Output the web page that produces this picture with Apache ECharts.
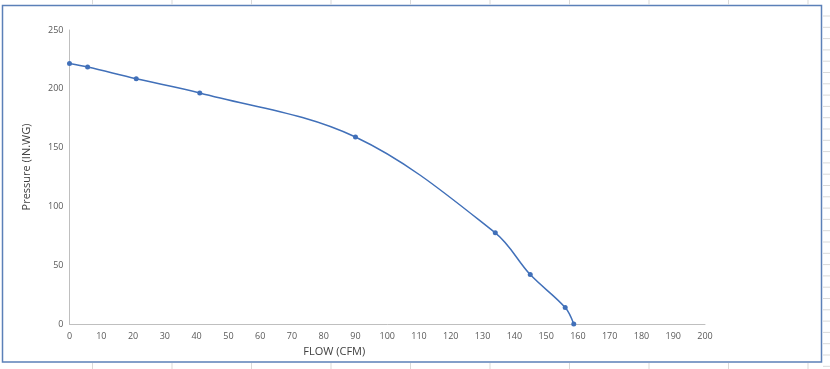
<!DOCTYPE html>
<html>
<head>
<meta charset="utf-8">
<script src="https://cdn.jsdelivr.net/npm/echarts@6/dist/echarts.min.js"></script>
<style>
html,body{margin:0;padding:0;background:#fff;}
#c{width:830px;height:369px;}
</style>
</head>
<body>
<div id="c"></div>
<script>
// Data
const flow = [0, 5.7, 21, 41, 90, 134, 145, 156, 158.7];
const pressure = [221.5, 218.5, 208.5, 196.5, 159, 77.5, 42, 14, 0];
const xTicks = [0, 10, 20, 30, 40, 50, 60, 70, 80, 90, 100, 110, 120, 130, 140, 150, 160, 170, 180, 190, 200];
const yTicks = [0, 50, 100, 150, 200, 250];

const points = flow.map((f, i) => [f, pressure[i]]);

// spreadsheet backdrop lines (decorative)
const bg = [];
for (let x = 92.5; x < 830; x += 79.5) {
  bg.push({type:'line', shape:{x1:x,y1:0,x2:x,y2:5}, style:{stroke:'#d9d9d9',lineWidth:1}, silent:true});
  bg.push({type:'line', shape:{x1:x,y1:363,x2:x,y2:369}, style:{stroke:'#d9d9d9',lineWidth:1}, silent:true});
}
for (let y = 16; y < 369; y += 11.3) {
  bg.push({type:'line', shape:{x1:823,y1:y,x2:830,y2:y}, style:{stroke:'#d9d9d9',lineWidth:1}, silent:true});
}
bg.push({type:'rect', shape:{x:2.5,y:5.5,width:819,height:356.5}, style:{fill:'rgba(0,0,0,0)',stroke:'#5b80b8',lineWidth:1.5}, silent:true, z:-1});

const chart = echarts.init(document.getElementById('c'), null, {renderer:'canvas'});
chart.setOption({
  animation:false,
  backgroundColor:'#fff',
  graphic: bg,
  grid:{left:69.5, right:125, top:30, bottom:45, containLabel:false},
  xAxis:{
    type:'value', min:xTicks[0], max:xTicks[xTicks.length-1], interval:xTicks[1]-xTicks[0],
    name:'FLOW (CFM)', nameLocation:'middle', nameGap:20,
    nameTextStyle:{color:'#404040', fontSize:11, fontFamily:'Open Sans', padding:[0,106,0,0]},
    axisLine:{show:true, lineStyle:{color:'#bfbfbf', width:1}},
    axisTick:{show:false},
    splitLine:{show:false},
    axisLabel:{color:'#595959', fontSize:9, fontFamily:'Open Sans', margin:8}
  },
  yAxis:{
    type:'value', min:yTicks[0], max:yTicks[yTicks.length-1], interval:yTicks[1]-yTicks[0],
    name:'Pressure (IN.WG)', nameLocation:'middle', nameGap:37, nameRotate:90,
    nameTextStyle:{color:'#404040', fontSize:11, fontFamily:'Open Sans', padding:[0,0,0,20]},
    axisLine:{show:true, lineStyle:{color:'#bfbfbf', width:1}},
    axisTick:{show:false},
    splitLine:{show:false},
    axisLabel:{color:'#595959', fontSize:9, fontFamily:'Open Sans', margin:6}
  },
  series:[{
    type:'line',
    data:points,
    smooth:0.35,
    symbol:'circle',
    symbolSize:5,
    lineStyle:{color:'#4170b9', width:1.5},
    itemStyle:{color:'#4170b9'}
  }]
});
</script>
</body>
</html>
